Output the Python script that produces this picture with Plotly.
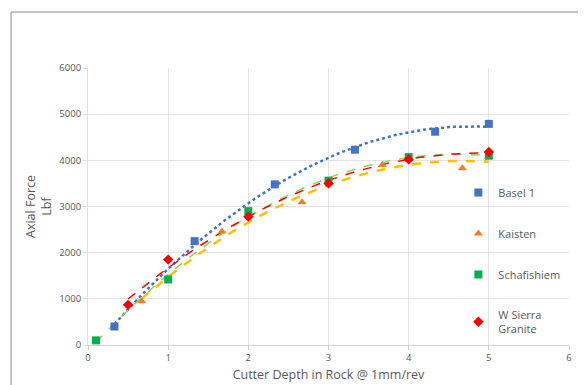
import numpy as np
import plotly.graph_objects as go

basel_x = [0.33, 1.33, 2.33, 3.33, 4.33, 5.0]
basel_y = [400, 2250, 3480, 4230, 4620, 4790]
kaisten_x = [0.67, 1.67, 2.67, 3.67, 4.67, 5.0]
kaisten_y = [950, 2460, 3090, 3900, 3830, 4080]
schaf_x = [0.1, 1.0, 2.0, 3.0, 4.0, 5.0]
schaf_y = [100, 1420, 2900, 3560, 4070, 4100]
wsg_x = [0.5, 1.0, 2.0, 3.0, 4.0, 5.0]
wsg_y = [870, 1850, 2780, 3500, 4020, 4180]

series = [
    ("Basel 1", basel_x, basel_y, "#4472C4", "square", 8, dict(dash="dot", width=2.5, color="#4472C4")),
    ("Kaisten", kaisten_x, kaisten_y, "#ED7D31", "triangle-up", 8, dict(dash="dash", width=2.5, color="#FFC000")),
    ("Schafishiem", schaf_x, schaf_y, "#00B050", "square", 8, dict(dash="dash", width=1.5, color="#92D050")),
    ("W Sierra<br>Granite", wsg_x, wsg_y, "#FF0000", "diamond", 8, dict(dash="dash", width=1.5, color="#FF0000")),
]

fig = go.Figure()
# trendlines first (polynomial order 2 fitted to the data)
for name, xs, ys, col, sym, sz, line in series:
    c = np.polyfit(xs, ys, 2)
    tx = np.linspace(min(xs), max(xs), 80)
    fig.add_trace(go.Scatter(x=tx, y=np.polyval(c, tx), mode="lines", line=line,
                             showlegend=False, hoverinfo="skip"))
for i, (name, xs, ys, col, sym, sz, line) in enumerate(series):
    fig.add_trace(go.Scatter(x=xs, y=ys, mode="markers", name=name, legendgroup=str(i),
                             marker=dict(symbol=sym, size=sz, color=col)))

fig.update_layout(
    width=578, height=377,
    margin=dict(l=80, r=17, t=60, b=40, autoexpand=False),
    paper_bgcolor="white", plot_bgcolor="white",
    font=dict(family="Open Sans", color="#595959", size=9),
    showlegend=True,
    legend=dict(x=0.77, y=0.603, xanchor="left", yanchor="top", bgcolor="rgba(0,0,0,0)",
                font=dict(size=11, color="#595959"), tracegroupgap=22, itemwidth=30),
    xaxis=dict(range=[0, 6], dtick=1, showgrid=True, gridcolor="#e4e4e4", zeroline=False,
               showline=True, linecolor="#d0d0d0", ticks="outside", tickcolor="#d0d0d0", ticklen=4,
               tickfont=dict(size=9.5), automargin=False,
               title=dict(text="Cutter Depth in Rock @ 1mm/rev", font=dict(size=12.5, color="#595959"), standoff=6)),
    yaxis=dict(range=[0, 6000], dtick=1000, showgrid=True, gridcolor="#e4e4e4", zeroline=False,
               showline=True, linecolor="#e0e0e0", ticks="outside", tickcolor="#e0e0e0", ticklen=4,
               tickfont=dict(size=9.5), automargin=False,
               title=dict(text="Axial Force<br>Lbf", font=dict(size=12.5, color="#595959"), standoff=4)),
)
fig.add_shape(type="rect", xref="paper", yref="paper", x0=-0.160, x1=1.2, y0=-0.3, y1=1.202,
              line=dict(color="#8c8c8c", width=1), layer="below")
fig.write_html("out.html")
